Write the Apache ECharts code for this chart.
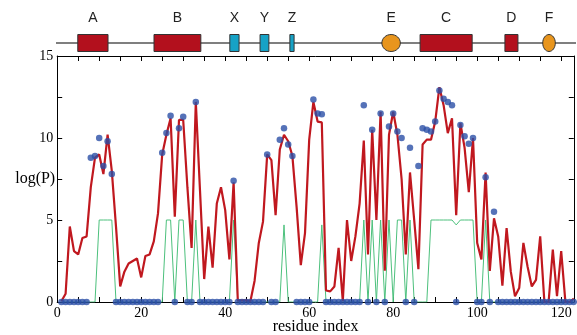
<!DOCTYPE html>
<html><head><meta charset="utf-8">
<script src="https://cdn.jsdelivr.net/npm/echarts@6/dist/echarts.min.js"></script>
<style>html,body{margin:0;padding:0;background:#fff}#c{width:577px;height:335px}</style>
</head><body><div id="c"></div>
<script>
// residue index of first value
const firstResidue = 1;
// red line: log(P) per residue (1..123)
const redValues = [
 0.05,0.5,4.6,3.1,2.9,3.9,4.0,7.0,8.8,9.0,
 7.8,10.2,8.0,4.6,0.95,1.85,2.35,2.5,2.65,1.5,
 2.8,2.9,3.7,5.4,9.0,10.2,11.2,5.2,11.1,11.1,
 7.0,3.3,12.2,6.8,1.4,4.6,2.1,6.0,7.0,5.6,
 2.6,7.3,0.1,0.1,0.1,0.05,1.3,3.6,4.9,9.0,
 8.65,5.3,9.3,10.2,9.8,8.9,5.8,2.25,4.2,9.9,
 12.2,11.0,10.95,0.7,0.65,0.95,3.3,0.05,5.0,2.5,
 4.0,6.0,9.85,2.9,10.5,5.0,11.6,1.9,10.2,11.6,
 10.2,7.5,2.9,7.9,5.0,2.0,9.6,9.9,9.9,11.0,
 13.1,12.0,10.3,11.2,5.3,10.9,9.4,6.7,10.0,3.6,
 2.6,7.9,1.9,5.1,4.0,1.0,4.5,1.85,0.35,0.85,
 3.6,2.15,0.95,1.35,4.0,0.0,0.0,3.2,0.35,3.1,
 0.0,0.0,0.2
];
// blue points per residue (1..123)
const blueValues = [
 0,0,0,0,0,0,0,8.8,8.9,10.0,
 8.3,9.8,7.8,0,0,0,0,0,0,0,
 0,0,0,0,9.1,10.3,11.35,0,10.6,11.3,
 0,0,12.2,0,0,0,0,0,0,0,
 0,7.4,0,0,0,0,0,0,0,9.0,
 0,0,9.9,10.6,9.6,8.9,0,0,0,0,
 12.35,11.5,11.45,0,0,0,0,0,0,0,
 0,0,12.0,0,10.5,0,11.5,0,10.7,11.5,
 10.4,10.0,0,9.4,0,8.3,10.6,10.5,10.4,11.0,
 12.9,12.4,12.2,12.0,0,10.8,10.1,9.65,10.0,0,
 0,7.6,0,5.5,0,0,0,0,0,0,
 0,0,0,0,0,0,0,0,0,0,
 0,0,0
];
// green line per residue (1..123)
const greenValues = [
 0,0,0,0,0,0,0,0,0,5,
 5,5,5,0,0,0,0,0,0,0,
 0,0,0,0,0,5,5,0,5,5,
 0,0,5,0,0,0,0,0,0,0,
 0,5,0,0,0,0,0,0,0,0,
 0,0,0,4.7,0,0,0,0,0,0,
 0,0,4.7,0,0,0,0,0,0,0,
 0,0,5,0,5,0,5,0,5,0,
 5,5,0,5,0,0,0,0,5,5,
 5,5,5,5,4.7,5,5,5,5,0,
 0,5,0,0,0,0,0,0,0,0,
 0,0,0,0,0,0,0,0,0,0,
 0,0,0
];
// secondary-structure annotation (residue ranges)
const domainNames = ['A','B','X','Y','Z','E','C','D','F'];
const domainStart = [4.9, 23.05, 41.1, 48.3, 55.4, 77.3, 86.4, 106.6, 115.6];
const domainEnd   = [12.1, 34.2, 43.3, 50.4, 56.4, 81.7, 98.8, 109.7, 118.6];
const domainKind  = ['helix','helix','turn','turn','turn','loop','helix','helix','loop'];
const annotLineRange = [-1.2, 124];
const xMax = 123;
const xLabelTicks = [0,20,40,60,80,100,120];
const yLabelTicks = [0,5,10,15];

const toPairs = arr => arr.map((v,k)=>[k+firstResidue, v]);

const serif = '"Liberation Serif","Times New Roman",serif';
const chart = echarts.init(document.getElementById('c'), null, {renderer:'canvas'});

const LINE_Y = 43, BOX_TOP = 34.5, BOX_BOTTOM = 51.5, LABEL_Y = 18;
const fillByKind = {helix:'#b3101d', turn:'#16a2c6', loop:'#e8951d'};

function axisCommon(pos, showLabel, isX){
  return {
    type:'value', position:pos, min:0,
    max: isX ? xMax : 15, interval: isX ? 5 : 2.5,
    axisLine:{show:true, onZero:false, lineStyle:{color:'#000', width:1}},
    axisTick:{show:true, inside:true, length:5, lineStyle:{color:'#000', width:1}},
    splitLine:{show:false},
    axisLabel:{show:showLabel, color:'#000', fontFamily:serif, fontSize:14,
      margin: isX ? 4 : 4,
      formatter: v => (isX ? xLabelTicks : yLabelTicks).indexOf(v) >= 0 ? String(v) : ''}
  };
}

const option = {
  animation:false,
  backgroundColor:'#fff',
  grid:[
    {left:57.2, right:3.2, top:56, bottom:33, containLabel:false, outerBoundsMode:'none'},
    {left:57.2, right:3.2, top:0, height:56, containLabel:false, outerBoundsMode:'none'}
  ],
  xAxis:[
    Object.assign(axisCommon('bottom', true, true), {gridIndex:0,
      name:'residue index', nameLocation:'middle', nameGap:17, nameMoveOverlap:false,
      nameTextStyle:{fontFamily:serif, fontSize:16, color:'#000', verticalAlign:'top'}}),
    Object.assign(axisCommon('top', false, true), {gridIndex:0}),
    {type:'value', gridIndex:1, min:0, max:xMax, show:false}
  ],
  yAxis:[
    Object.assign(axisCommon('left', true, false), {gridIndex:0,
      name:'log(P)', nameLocation:'middle', nameRotate:0, nameGap:2, nameMoveOverlap:false,
      nameTextStyle:{fontFamily:serif, fontSize:16, color:'#000'}}),
    Object.assign(axisCommon('right', false, false), {gridIndex:0}),
    {type:'value', gridIndex:1, min:0, max:56, inverse:true, show:false}
  ],
  series:[
    {type:'line', xAxisIndex:0, yAxisIndex:0, data:toPairs(greenValues),
     showSymbol:false, symbol:'none', lineStyle:{color:'#4cc07c', width:1}, z:2},
    {type:'line', xAxisIndex:0, yAxisIndex:0, data:toPairs(redValues),
     showSymbol:false, symbol:'none', lineStyle:{color:'#c0181f', width:2.2}, z:3},
    {type:'scatter', xAxisIndex:0, yAxisIndex:0, data:toPairs(blueValues),
     symbolSize:6.5, itemStyle:{color:'#2a4fa6'}, z:4},
    {type:'line', xAxisIndex:2, yAxisIndex:2, clip:false,
     data:annotLineRange.map(x=>[x, LINE_Y]), showSymbol:false, symbol:'none',
     lineStyle:{color:'#555', width:1.5}, z:5},
    {type:'custom', xAxisIndex:2, yAxisIndex:2, clip:false, z:6,
     data: domainStart.map((s,k)=>[s, domainEnd[k], k]),
     renderItem:function(params, api){
       const s = api.value(0), e = api.value(1), k = api.value(2);
       const kind = domainKind[k];
       const p1 = api.coord([s, BOX_TOP]);
       const p2 = api.coord([e, BOX_BOTTOM]);
       const cx = (p1[0]+p2[0])/2;
       const cy = api.coord([s, LINE_Y])[1];
       const ly = api.coord([s, LABEL_Y])[1];
       const children = [];
       if (kind === 'loop') {
         children.push({type:'ellipse', shape:{cx:cx, cy:cy, rx:(p2[0]-p1[0])/2, ry:(p2[1]-p1[1])/2},
           style:{fill:fillByKind[kind], stroke:'#333', lineWidth:1}});
       } else {
         children.push({type:'rect', shape:{x:p1[0], y:p1[1], width:p2[0]-p1[0], height:p2[1]-p1[1]},
           style:{fill:fillByKind[kind], stroke:'#333', lineWidth:1}});
       }
       children.push({type:'text', style:{text:domainNames[k], x:cx, y:ly, align:'center', verticalAlign:'middle',
         font:'14px "Liberation Sans", Arial, sans-serif', fill:'#222'}});
       return {type:'group', children:children};
     }}
  ]
};
chart.setOption(option);
</script></body></html>
